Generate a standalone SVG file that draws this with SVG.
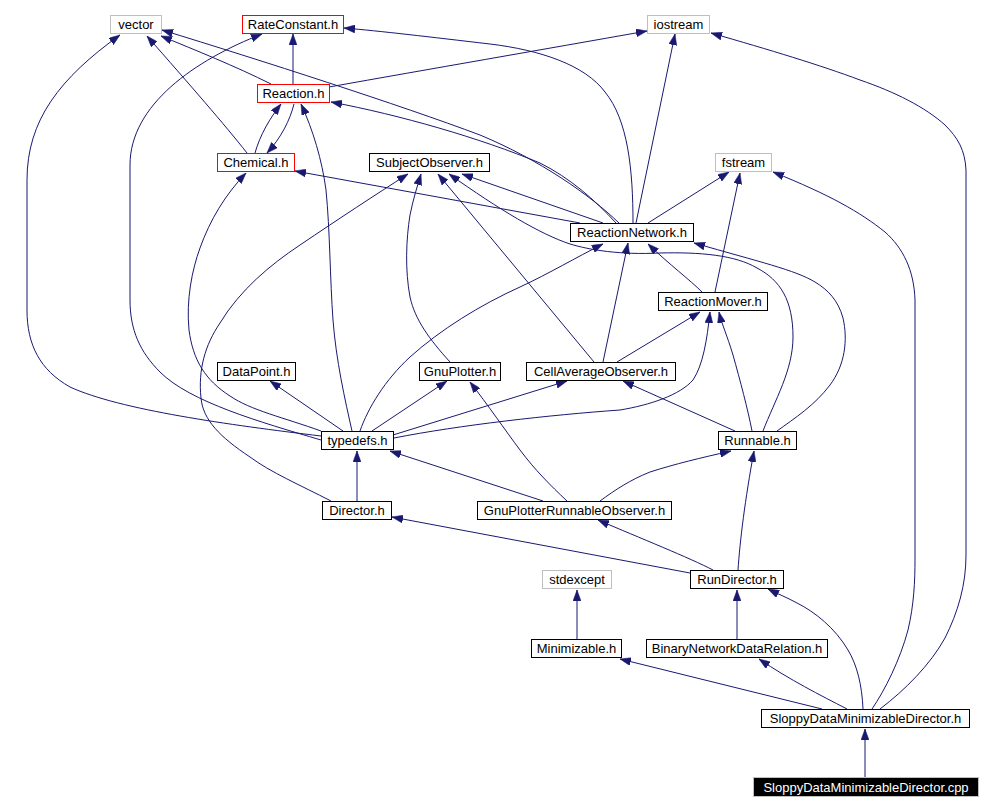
<svg xmlns="http://www.w3.org/2000/svg" width="993" height="811" viewBox="0 0 993 811">
<defs>
<style>
.n rect{fill:#fff;stroke:#000;stroke-width:1}
.n.g rect{stroke:#bfbfbf}
.n.r rect{stroke:#ff0000}
.n.b rect{fill:#000;stroke:#bfbfbf}
.n text{font-family:"Liberation Sans",Arial,sans-serif;font-size:13px;fill:#000;text-anchor:middle}
.n.b text{fill:#fff}
#edges path{fill:none;stroke:#191970;stroke-width:1;marker-end:url(#ah)}
</style>
<marker id="ah" viewBox="0 0 11 8" refX="11" refY="4" markerUnits="userSpaceOnUse" markerWidth="11" markerHeight="8" orient="auto">
<path d="M0,0 L11,4 L0,8 z" fill="#191970" stroke="#191970" stroke-width="0.5"/>
</marker>
</defs>
<rect width="993" height="811" fill="#fff"/>
<g id="edges">
<path d="M271,84 C235,66 195,50 161,36"/>
<path d="M293,84 L293,34"/>
<path d="M329,87 C430,69 540,50 647,31"/>
<path d="M247,153 C225,125 190,85 147,36"/>
<path d="M255,153 C260,135 270,118 281,104"/>
<path d="M294,104 C290,120 281,138 267,153"/>
<path d="M321,436 C230,425 120,410 70,387 C40,370 27,345 27,310 L27,180 C27,120 60,78 120,35"/>
<path d="M321,440 C260,422 190,402 160,372 C140,352 130,330 130,300 L130,165 C130,105 195,60 262,34"/>
<path d="M619,223 C590,195 540,160 480,135 C400,105 260,60 162,30"/>
<path d="M616,223 C595,200 570,178 540,163 C480,138 400,115 331,102"/>
<path d="M633,223 C633,170 628,120 605,92 C585,65 540,50 490,44 C430,37 380,31 344,28"/>
<path d="M636,223 L675,34"/>
<path d="M648,223 L729,172"/>
<path d="M580,223 L295,171"/>
<path d="M603,223 L462,174"/>
<path d="M763,431 C775,400 793,370 793,337 C793,300 780,280 757,268 C735,255 700,252 660,253 C620,255 590,250 570,244 C540,234 500,210 449,174"/>
<path d="M777,431 C795,418 815,405 830,385 C845,365 848,340 843,318 C838,300 828,290 815,282 C795,270 760,262 694,243"/>
<path d="M594,362 L438,174"/>
<path d="M603,362 L628,243"/>
<path d="M617,362 L700,312"/>
<path d="M702,292 C690,280 670,265 648,244"/>
<path d="M715,292 L740,173"/>
<path d="M360,431 C368,408 385,380 410,357 C440,330 480,305 520,287 C550,273 575,258 603,244"/>
<path d="M450,362 C430,340 415,320 410,297 C405,270 406,240 410,215 C413,200 417,187 421,174"/>
<path d="M331,501 C300,485 270,472 250,457 C220,437 203,420 201,398 C198,370 205,345 220,323 C240,290 270,265 300,245 C340,218 375,195 408,174"/>
<path d="M357,501 L357,451"/>
<path d="M321,431 C285,418 250,410 230,396 C205,380 193,360 189,330 C186,300 192,270 200,248 C210,220 225,195 246,173"/>
<path d="M352,431 C345,400 336,360 333,320 C330,280 330,230 326,190 C322,160 313,130 301,104"/>
<path d="M343,431 L270,381"/>
<path d="M372,431 L447,381"/>
<path d="M393,435 L567,381"/>
<path d="M394,438 C460,425 550,415 620,410 C650,405 680,395 693,380 C703,365 707,340 710,312"/>
<path d="M752,431 C748,410 740,380 733,355 C727,335 722,325 719,312"/>
<path d="M735,431 L623,381"/>
<path d="M543,501 L390,451"/>
<path d="M567,501 C550,485 535,470 520,450 C505,430 488,405 470,382"/>
<path d="M600,501 C615,490 630,480 650,472 C675,464 700,458 731,451"/>
<path d="M690,573 L392,517"/>
<path d="M713,570 C690,558 640,538 598,520"/>
<path d="M738,570 C740,540 745,500 754,451"/>
<path d="M737,639 L737,590"/>
<path d="M577,639 L577,590"/>
<path d="M822,709 L620,659"/>
<path d="M847,709 C820,695 790,680 759,659"/>
<path d="M863,709 C862,685 857,665 848,650 C835,628 815,612 797,603 C788,598 778,594 768,589"/>
<path d="M872,709 C885,690 900,660 908,630 C914,605 915,580 915,560 L915,300 C914,270 903,248 885,232 C860,212 830,195 773,172"/>
<path d="M880,709 C905,690 930,665 945,638 C958,612 966,585 966,555 L966,170 C965,150 958,138 945,125 C925,107 895,92 860,80 C820,65 770,50 711,33"/>
<path d="M865,777 L865,729"/>
</g>
<g id="n_vector" class="n g"><rect x="110.5" y="15.5" width="51" height="18"/><text x="136" y="29">vector</text></g>
<g id="n_RateConstant" class="n r"><rect x="242.5" y="15.5" width="101" height="18"/><text x="293" y="29">RateConstant.h</text></g>
<g id="n_iostream" class="n g"><rect x="647.5" y="15.5" width="62" height="18"/><text x="678.5" y="29">iostream</text></g>
<g id="n_Reaction" class="n r"><rect x="257.5" y="84.5" width="72" height="18"/><text x="293.5" y="98">Reaction.h</text></g>
<g id="n_Chemical" class="n r"><rect x="217.5" y="153.5" width="77" height="18"/><text x="256" y="167">Chemical.h</text></g>
<g id="n_SubjectObserver" class="n"><rect x="369.5" y="153.5" width="120" height="18"/><text x="429.5" y="167">SubjectObserver.h</text></g>
<g id="n_fstream" class="n g"><rect x="715.5" y="153.5" width="56" height="18"/><text x="743.5" y="167">fstream</text></g>
<g id="n_ReactionNetwork" class="n"><rect x="570.5" y="223.5" width="123" height="18"/><text x="632" y="237">ReactionNetwork.h</text></g>
<g id="n_ReactionMover" class="n"><rect x="658.5" y="292.5" width="109" height="18"/><text x="713" y="306">ReactionMover.h</text></g>
<g id="n_DataPoint" class="n"><rect x="217.5" y="362.5" width="78" height="18"/><text x="256.5" y="376">DataPoint.h</text></g>
<g id="n_GnuPlotter" class="n"><rect x="419.5" y="362.5" width="81" height="18"/><text x="460" y="376">GnuPlotter.h</text></g>
<g id="n_CellAverageObserver" class="n"><rect x="526.5" y="362.5" width="149" height="18"/><text x="601" y="376">CellAverageObserver.h</text></g>
<g id="n_typedefs" class="n"><rect x="321.5" y="431.5" width="72" height="18"/><text x="357.5" y="445">typedefs.h</text></g>
<g id="n_Runnable" class="n"><rect x="718.5" y="431.5" width="78" height="18"/><text x="757.5" y="445">Runnable.h</text></g>
<g id="n_Director" class="n"><rect x="322.5" y="501.5" width="69" height="18"/><text x="357" y="515">Director.h</text></g>
<g id="n_GnuPlotterRunnableObserver" class="n"><rect x="477.5" y="501.5" width="194" height="18"/><text x="574.5" y="515">GnuPlotterRunnableObserver.h</text></g>
<g id="n_stdexcept" class="n g"><rect x="542.5" y="570.5" width="69" height="18"/><text x="577" y="584">stdexcept</text></g>
<g id="n_RunDirector" class="n"><rect x="690.5" y="570.5" width="93" height="18"/><text x="737" y="584">RunDirector.h</text></g>
<g id="n_Minimizable" class="n"><rect x="531.5" y="639.5" width="90" height="18"/><text x="576.5" y="653">Minimizable.h</text></g>
<g id="n_BinaryNetworkDataRelation" class="n"><rect x="646.5" y="639.5" width="181" height="18"/><text x="737" y="653">BinaryNetworkDataRelation.h</text></g>
<g id="n_SloppyDataMinimizableDirector_h" class="n"><rect x="761.5" y="709.5" width="208" height="18"/><text x="865.5" y="723">SloppyDataMinimizableDirector.h</text></g>
<g id="n_SloppyDataMinimizableDirector_cpp" class="n b"><rect x="753.5" y="777.5" width="225" height="19"/><text x="866" y="792">SloppyDataMinimizableDirector.cpp</text></g>
</svg>
